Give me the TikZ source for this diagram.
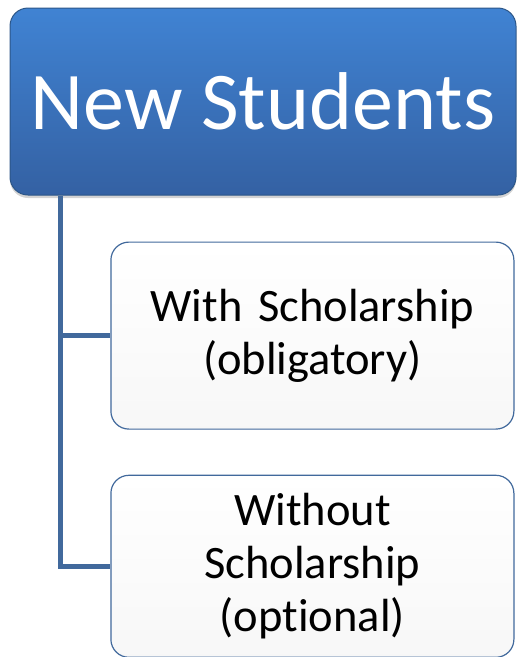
\documentclass[tikz,border=0pt]{standalone}
\usepackage{fontspec}
\setmainfont{Carlito}[Ligatures=CommonOff]
\usetikzlibrary{positioning,shadows}
\definecolor{headTop}{HTML}{4083D3}
\definecolor{headBot}{HTML}{3461A3}
\definecolor{headLine}{HTML}{2C5688}
\definecolor{treeLine}{HTML}{41699C}
\begin{document}
\begin{tikzpicture}[x=1pt, y=-1pt, node distance = 45pt,
	headbox/.style = {rectangle, rounded corners=18pt, draw=headLine, line width=1pt,
		top color=headTop, bottom color=headBot, text=white, %font = \sffamily,
		font=\fontsize{82}{98}\selectfont, minimum width=506pt, minimum height=187pt,
		drop shadow={opacity=0.35, shadow xshift=0pt, shadow yshift=-3pt}},
	itembox/.style = {rectangle, rounded corners=18pt, draw=treeLine, line width=1.2pt,
		top color=white, bottom color=black!3, text=black,
		font=\fontsize{46.5}{53}\selectfont, text width=395pt, align=center,
		minimum width=403pt, inner sep=0pt},
	tree/.style = {draw=treeLine, line width=5pt}]
	
	\useasboundingbox (0,0) rectangle (518,657);
	
	% top layer: the head box
	\node[headbox] (students) at (263,101.5) {New Students};
	\coordinate [right = 51pt of students.south west] (Oben);
	
	% lower layer: the two kinds
	\node[itembox, minimum height=187pt] (withS) [below left = 46pt and 2pt of students.south east]
		{With Scholarship\\(obligatory)};
	\node[itembox, minimum height=182pt] (withoutS) [below = of withS]
		{Without\\Scholarship\\(optional)};
	
	% connections
	\draw [tree]
	(Oben) |- (withoutS.west)
	(Oben |- withS.west) -- (withS.west);
\end{tikzpicture}
\end{document}
